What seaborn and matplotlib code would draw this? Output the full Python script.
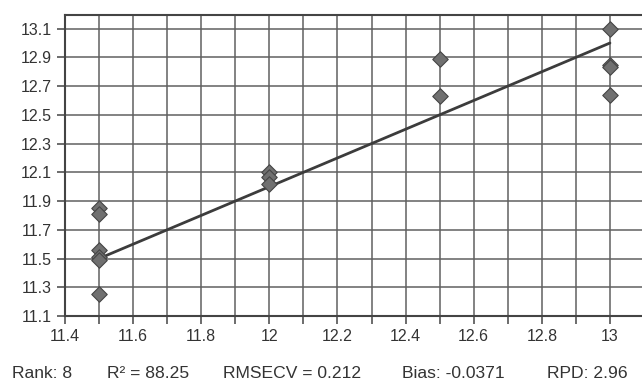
import numpy as np
import pandas as pd
import seaborn as sns
import matplotlib.pyplot as plt
from matplotlib.ticker import MultipleLocator, FixedLocator

# measured vs predicted values (cross validation)
measured = [11.5, 11.5, 11.5, 11.5, 11.5, 11.5,
            12.0, 12.0, 12.0,
            12.5, 12.5,
            13.0, 13.0, 13.0, 13.0]
predicted = [11.85, 11.81, 11.56, 11.51, 11.49, 11.25,
             12.10, 12.07, 12.02,
             12.89, 12.63,
             13.10, 12.85, 12.83, 12.64]

x_ticks = [11.4, 11.6, 11.8, 12.0, 12.2, 12.4, 12.6, 12.8, 13.0]
x_labels = ["11.4", "11.6", "11.8", "12", "12.2", "12.4", "12.6", "12.8", "13"]
y_ticks = [11.1, 11.3, 11.5, 11.7, 11.9, 12.1, 12.3, 12.5, 12.7, 12.9, 13.1]

stats = ["Rank: 8", "R² = 88.25", "RMSECV = 0.212", "Bias: -0.0371", "RPD: 2.96"]
stats_x = [12, 107, 223, 402, 547]

df = pd.DataFrame({"measured": measured, "predicted": predicted})

sns.set_style("white")
plt.rcParams["font.family"] = ["Liberation Sans", "DejaVu Sans"]

fig = plt.figure(figsize=(6.42, 3.83), dpi=100)
ax = fig.add_axes([65 / 642, 1 - 316 / 383, 579 / 642, 301 / 383])

# target line y = x across the measured range
lo, hi = min(measured), max(measured)
ax.plot([lo, hi], [lo, hi], color="#3c3c3c", lw=2.0, zorder=3)

sns.scatterplot(data=df, x="measured", y="predicted", marker="D", s=62,
                color="#707070", edgecolor="#454545", linewidth=0.8,
                ax=ax, zorder=4)

ax.set_xlim(11.4, 13.1)
ax.set_ylim(11.1, 13.195)
ax.xaxis.set_major_locator(FixedLocator(x_ticks))
ax.set_xticklabels(x_labels)
ax.xaxis.set_minor_locator(MultipleLocator(0.1))
ax.yaxis.set_major_locator(FixedLocator(y_ticks))
ax.set_yticklabels([f"{v:.1f}" for v in y_ticks])

ax.grid(True, which="both", axis="x", color="#606060", lw=1.1)
ax.grid(True, which="major", axis="y", color="#606060", lw=1.1)
ax.set_axisbelow(True)

ax.tick_params(axis="x", which="both", direction="out", length=6, width=1.1,
               color="#444444", labelsize=11.5, labelcolor="#333333", bottom=True)
ax.tick_params(axis="y", which="major", direction="out", length=6, width=1.1,
               color="#444444", labelsize=11.5, labelcolor="#333333", left=True)

for side in ["left", "bottom", "top"]:
    ax.spines[side].set_color("#444444")
    ax.spines[side].set_linewidth(1.5)
ax.spines["right"].set_visible(False)

ax.set_xlabel("")
ax.set_ylabel("")

for label, px in zip(stats, stats_x):
    fig.text(px / 642, 1 - 373 / 383, label, fontsize=12.6, color="#333333",
             ha="left", va="center")

fig.savefig("out.png", dpi=100)
